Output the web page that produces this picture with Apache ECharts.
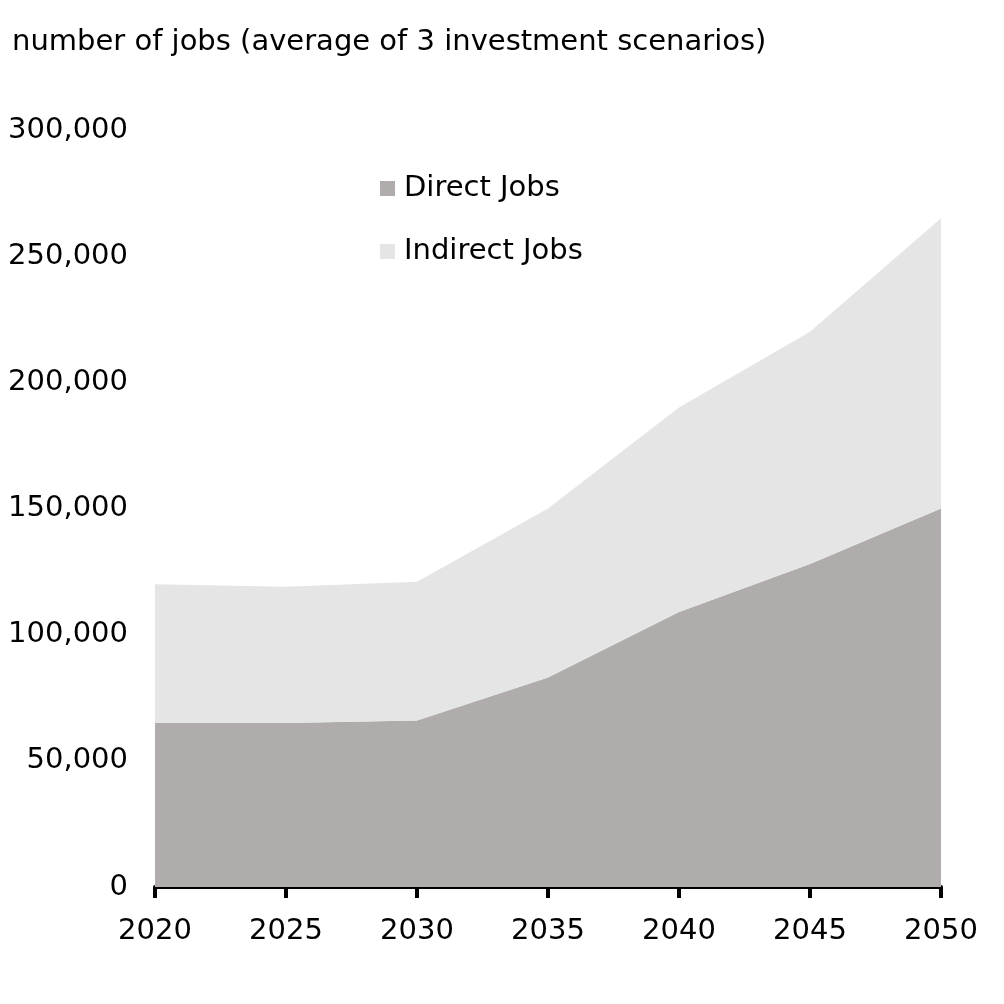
<!DOCTYPE html>
<html><head><meta charset="utf-8">
<script src="https://cdn.jsdelivr.net/npm/echarts@6/dist/echarts.min.js"></script>
<style>html,body{margin:0;padding:0;background:#fff}#c{width:1004px;height:1004px}</style>
</head><body><div id="c"></div>
<script>
const years = ['2020','2025','2030','2035','2040','2045','2050'];
const directJobs = [65000, 65000, 66000, 83000, 109000, 128000, 150000];
const indirectJobs = [55000, 54000, 55000, 67000, 81000, 92000, 115000];
const yTicks = [0, 50000, 100000, 150000, 200000, 250000, 300000];
const titleText = 'number of jobs (average of 3 investment scenarios)';

const chart = echarts.init(document.getElementById('c'), null, {renderer:'canvas'});
const font = 'DejaVu Sans, sans-serif';
chart.setOption({
  animation: false,
  backgroundColor: '#fff',
  title: {text: titleText, left: 7, top: 23, textStyle: {fontFamily: font, fontSize: 29, fontWeight: 'normal', color: '#000'}},
  legend: {
    orient: 'vertical', left: 380, top: 174, padding: 0, itemGap: 34, itemWidth: 15, itemHeight: 15, icon: 'rect',
    textStyle: {fontFamily: font, fontSize: 29, color: '#000', padding: [0,0,0,4]},
    data: ['Direct Jobs', 'Indirect Jobs']
  },
  grid: {left: 155, right: 63, top: 130, bottom: 117, containLabel: false},
  xAxis: {
    type: 'category', data: years, boundaryGap: false,
    axisLine: {lineStyle: {color: '#000', width: 4}},
    axisTick: {show: true, length: 11, lineStyle: {color: '#000', width: 4}},
    axisLabel: {fontFamily: font, fontSize: 29, color: '#000', margin: 30}
  },
  yAxis: {
    type: 'value', min: yTicks[0], max: yTicks[yTicks.length-1], interval: 50000,
    axisLine: {show: false}, axisTick: {show: false}, splitLine: {show: false},
    axisLabel: {fontFamily: font, fontSize: 29, color: '#000', margin: 27,
      formatter: v => v.toLocaleString('en-US')}
  },
  series: [
    {name: 'Direct Jobs', type: 'line', stack: 'jobs', data: directJobs, symbol: 'none',
     lineStyle: {width: 0}, itemStyle: {color: '#AFACAB'}, areaStyle: {color: '#AFACAB', opacity: 1}},
    {name: 'Indirect Jobs', type: 'line', stack: 'jobs', data: indirectJobs, symbol: 'none',
     lineStyle: {width: 0}, itemStyle: {color: '#E5E5E5'}, areaStyle: {color: '#E5E5E5', opacity: 1}}
  ]
});
</script></body></html>
